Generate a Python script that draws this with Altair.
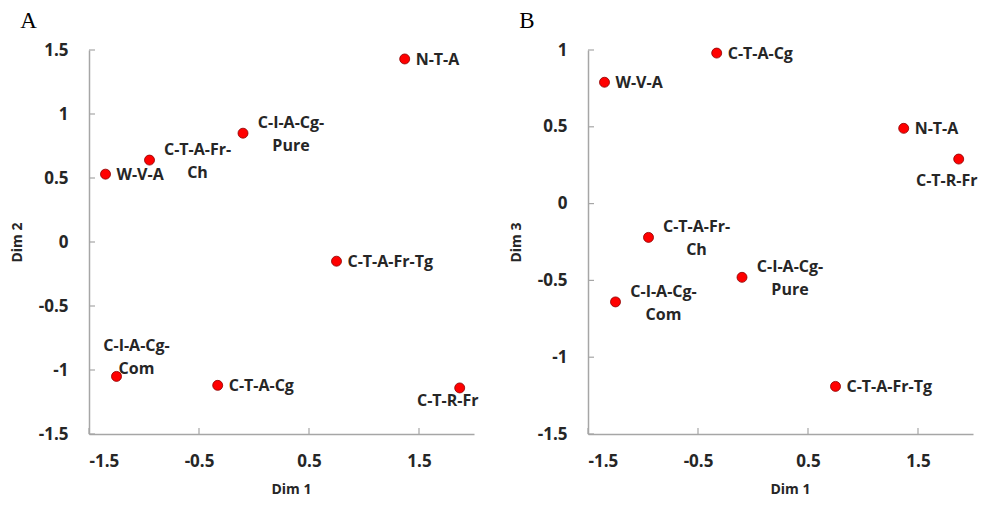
import altair as alt
import pandas as pd

# ---- data ----
labels = ["N-T-A", "C-I-A-Cg-\nPure", "C-T-A-Fr-\nCh", "W-V-A",
          "C-T-A-Fr-Tg", "C-I-A-Cg-\nCom", "C-T-A-Cg", "C-T-R-Fr"]
dim1 = [1.37, -0.10, -0.95, -1.35, 0.75, -1.25, -0.33, 1.87]
dim2 = [1.43, 0.85, 0.64, 0.53, -0.15, -1.05, -1.12, -1.14]
dim3 = [0.49, -0.48, -0.22, 0.79, -1.19, -0.64, 0.98, 0.29]

x_ticks = [-1.5, -0.5, 0.5, 1.5]
y2_ticks = [-1.5, -1.0, -0.5, 0.0, 0.5, 1.0, 1.5]
y3_ticks = [-1.5, -1.0, -0.5, 0.0, 0.5, 1.0]

# label placement per panel: r = right, r2 = two-line right, a = above, b = below
place_A = ["r", "r2", "r2", "r", "r", "a", "r", "b"]
place_B = ["r", "r2", "r2", "r", "r", "r2", "r", "b"]

df = pd.DataFrame({"label": labels, "dim1": dim1, "dim2": dim2, "dim3": dim3,
                   "pA": place_A, "pB": place_B})

W, H = 385, 384
FONT = "Open Sans"
TXT = "#262626"
AXIS_GRAY = "#a6a6a6"
LBL = "'' + datum.value"
LFS = 16

label_styles = {
    "r": dict(align="left", dx=11, dy=1),
    "r2": dict(align="center", dx=48, dy=-10),
    "a": dict(align="center", dx=20, dy=-30),
}


def panel(ycol, ytitle, ydom, yticks, ptitle, pcol, below_dy):
    xs = alt.Scale(domain=[-1.5, 2.0], nice=False, zero=False)
    ys = alt.Scale(domain=ydom, nice=False, zero=False)
    x_axis = alt.Axis(values=x_ticks, title="Dim 1", titleX=202, labelExpr=LBL,
                      labelPadding=19, titlePadding=13)
    y_axis = alt.Axis(values=yticks, title=ytitle, labelExpr=LBL,
                      labelPadding=21, titlePadding=14)

    def X(f):
        return alt.X(f"{f}:Q", scale=xs, axis=x_axis)

    def Y(f):
        return alt.Y(f"{f}:Q", scale=ys, axis=y_axis)

    base = alt.Chart(df)
    pts = base.mark_point(filled=True, shape="circle", size=100, fill="#ff0000",
                          stroke="#8a0000", strokeWidth=0.8, opacity=1).encode(
        x=X("dim1"), y=Y(ycol))
    layers = [pts]
    for key, st in label_styles.items():
        layers.append(
            base.transform_filter(alt.datum[pcol] == key).mark_text(
                font=FONT, fontSize=LFS, fontWeight="bold", color=TXT,
                baseline="middle", lineBreak="\n", lineHeight=23, **st
            ).encode(x=X("dim1"), y=Y(ycol), text="label:N"))
    layers.append(
        base.transform_filter(alt.datum[pcol] == "b").mark_text(
            font=FONT, fontSize=LFS, fontWeight="bold", color=TXT,
            baseline="middle", align="center", dx=-12, dy=below_dy
        ).encode(x=X("dim1"), y=Y(ycol), text="label:N"))
    # inside tick marks
    xt = pd.DataFrame({"dim1": x_ticks})
    yt = pd.DataFrame({ycol: yticks})
    layers.append(alt.Chart(xt).mark_rule(color=AXIS_GRAY, strokeWidth=1.2).encode(
        x=X("dim1"), y=alt.value(H), y2=alt.value(H - 6)))
    layers.append(alt.Chart(yt).mark_rule(color=AXIS_GRAY, strokeWidth=1.2).encode(
        y=Y(ycol), x=alt.value(0), x2=alt.value(6)))
    return alt.layer(*layers).properties(
        width=W, height=H,
        title=alt.TitleParams(ptitle, anchor="start", font="Liberation Serif",
                              fontSize=23, fontWeight="normal", color="#000",
                              dx=10, offset=8))


pA = panel("dim2", "Dim 2", [-1.5, 1.5], y2_ticks, "A", "pA", 13)
pB = panel("dim3", "Dim 3", [-1.5, 1.0], y3_ticks, "B", "pB", 22)

chart = alt.hconcat(pA, pB, spacing=30).properties(
    padding={"left": 2, "top": 2, "right": 0, "bottom": 0}
).configure_view(stroke=None).configure_axis(
    grid=False, ticks=False, domainColor=AXIS_GRAY, domainWidth=1.5,
    labelFont=FONT, labelFontSize=17, labelFontWeight="bold", labelColor=TXT,
    titleFont=FONT, titleFontSize=14, titleFontWeight="bold", titleColor=TXT
)

chart.save("out.html", embed_options={"renderer": "svg", "actions": False})
